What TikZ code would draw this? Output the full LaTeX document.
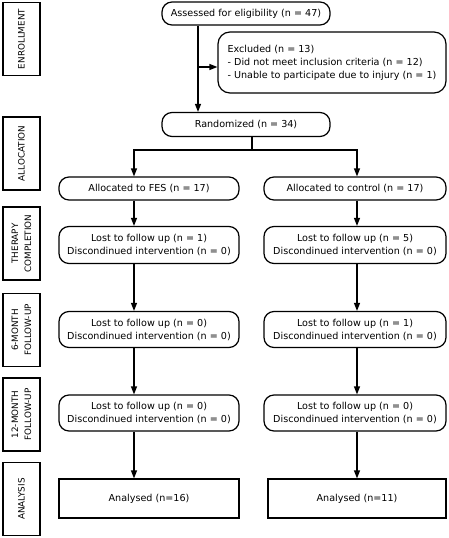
\documentclass[tikz,border=0pt]{standalone}
\usepackage{fontspec}
\setmainfont{DejaVu Sans}
\usetikzlibrary{arrows.meta}

\begin{document}
\begin{tikzpicture}[x=1pt,y=-1pt,
		font=\fontsize{9.6}{13}\selectfont,
		every path/.style={line width=1.2pt},
		stage/.style={draw,rectangle,rotate=90,minimum width=73pt,minimum height=37pt,align=center,inner sep=1pt,font=\fontsize{8.8}{13}\selectfont},
		rbox/.style={draw,rounded corners=10pt,align=center,inner sep=1pt},
		flow/.style={-{Triangle[length=8pt,width=6pt]}}]
	\useasboundingbox (0,0) rectangle (448,538);

	% stage labels on the left
	\begin{scope}[every node/.style={stage}]
		\node (enr) at (21.5,39) {ENROLLMENT};
		\node (alo) at (21.5,153.5) {ALLOCATION};
		\node (the) at (21.5,243.5) {THERAPY\\COMPLETION};
		\node (six) at (21.5,330) {6-MONTH\\FOLLOW-UP};
		\node (twe) at (21.5,414.5) {12-MONTH\\FOLLOW-UP};
		\node (ana) at (21.5,499) {ANALYSIS};
	\end{scope}

	% enrollment and randomisation
	\node[rbox,minimum width=168pt,minimum height=23pt] (assess) at (246,13.5) {Assessed for eligibility (n = 47)};
	\node[rbox,minimum width=228pt,minimum height=61pt,align=left,rounded corners=12pt] (excl) at (332,62.5)
		{Excluded (n = 13)\\- Did not meet inclusion criteria (n = 12)\\- Unable to participate due to injury (n = 1)};
	\node[rbox,minimum width=168pt,minimum height=24pt] (rand) at (246,124.5) {Randomized (n = 34)};

	% the two arms
	\begin{scope}[every node/.style={rbox,minimum width=180pt}]
		\node[minimum height=23pt] (allocF) at (149,188.5) {Allocated to FES (n = 17)};
		\node[minimum height=37pt] (therF) at (149,245) {Lost to follow up (n = 1)\\Discondinued intervention (n = 0)};
		\node[minimum height=36pt] (sixF) at (149,329.5) {Lost to follow up (n = 0)\\Discondinued intervention (n = 0)};
		\node[minimum height=36pt] (tweF) at (149,413) {Lost to follow up (n = 0)\\Discondinued intervention (n = 0)};
	\end{scope}
	\begin{scope}[every node/.style={rbox,minimum width=182pt}]
		\node[minimum height=23pt] (allocC) at (355,188.5) {Allocated to control (n = 17)};
		\node[minimum height=37pt] (therC) at (355,245) {Lost to follow up (n = 5)\\Discondinued intervention (n = 0)};
		\node[minimum height=36pt] (sixC) at (355,329.5) {Lost to follow up (n = 1)\\Discondinued intervention (n = 0)};
		\node[minimum height=36pt] (tweC) at (355,413) {Lost to follow up (n = 0)\\Discondinued intervention (n = 0)};
	\end{scope}
	\node[draw,minimum width=180pt,minimum height=39pt] (anaF) at (149,498.5) {Analysed (n=16)};
	\node[draw,minimum width=178pt,minimum height=39pt] (anaC) at (357,498.5) {Analysed (n=11)};

	% connectors
	\coordinate (trunk) at (198,0);
	\coordinate (br) at (198,67);
	\coordinate (split) at (252,150);
	\coordinate (lx) at (134,150);
	\coordinate (rx) at (357,150);

	\draw[flow] (assess.south -| trunk) -- (rand.north -| trunk);
	\draw[flow] (br) -- (br -| excl.west);
	\draw (rand.south -| split) -- (split);
	\draw[flow] (split) -- (lx) -- (allocF.north -| lx);
	\draw[flow] (split) -- (rx) -- (allocC.north -| rx);

	\foreach \a/\b in {allocF/therF,therF/sixF,sixF/tweF,tweF/anaF}
		\draw[flow] (\a.south -| lx) -- (\b.north -| lx);
	\foreach \a/\b in {allocC/therC,therC/sixC,sixC/tweC,tweC/anaC}
		\draw[flow] (\a.south -| rx) -- (\b.north -| rx);
\end{tikzpicture}
\end{document}
